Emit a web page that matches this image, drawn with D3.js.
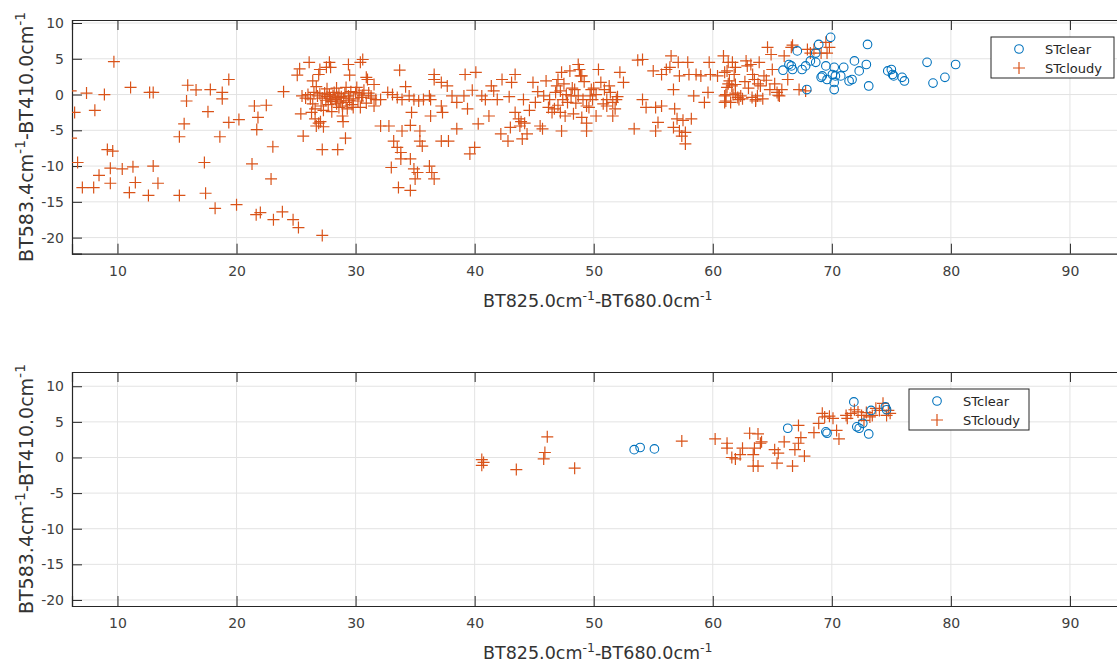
<!DOCTYPE html>
<html><head><meta charset="utf-8">
<script src="https://cdn.jsdelivr.net/npm/d3@7"></script>
<style>
body{margin:0;background:#fff;}
svg{display:block;font-family:"DejaVu Sans",sans-serif;}
</style></head><body>
<svg id="chart" width="1117" height="663"></svg>
<script>
// ---------- data ----------
const xTicks = [10,20,30,40,50,60,70,80,90];
const yTicks = [10,5,0,-5,-10,-15,-20];
const seriesNames = ["STclear","STcloudy"];

const topClear = [
[65.9,3.4],[66.4,4.2],[66.6,4.0],[66.7,3.5],[67.1,6.1],[67.5,3.5],[67.8,4.0],[67.9,0.7],[68.2,4.7],[68.65,4.5],
[68.9,7.0],[68.65,5.8],[69.1,2.4],[69.2,2.6],[69.5,4.0],[69.6,2.1],[69.9,8.0],[70.2,3.8],[70.05,2.8],[70.2,1.7],
[70.2,0.7],[70.3,2.6],[70.75,2.6],[71.0,3.8],[71.45,1.9],[71.7,2.1],[71.9,4.7],[72.3,3.3],[72.9,4.2],[73.0,7.0],
[73.1,1.2],[74.7,3.3],[75.0,3.5],[75.1,2.8],[75.2,2.6],[75.9,2.4],[76.1,1.9],[78.0,4.5],[78.5,1.6],[79.5,2.4],[80.4,4.2]
];

const topCloudy = [
[6.07,0.5],[6.4,-2.5],[6.1,-6.1],[6.65,-9.5],[7.05,-13.0],[7.4,0.2],[8.0,-13.0],[8.1,-2.2],[8.45,-11.3],[8.9,0.0],
[9.15,-7.7],[9.6,-7.9],[9.7,4.6],[9.4,-10.3],[9.4,-12.4],[10.4,-10.4],[11.1,1.0],[11.0,-13.7],[11.3,-10.1],[11.5,-12.3],
[12.7,0.3],[13.0,0.3],[12.6,-14.1],[13.0,-10.0],[13.4,-12.4],[15.2,-14.1],[15.2,-5.9],[15.6,-4.1],[15.8,-0.9],[15.9,1.3],
[16.6,0.65],[17.3,-9.5],[17.4,-13.8],[17.6,-2.4],[17.8,0.7],[18.2,-15.9],[18.6,-5.9],[18.8,0.3],[18.8,-0.6],[19.35,2.1],
[19.35,-3.9],[20.0,-15.4],[20.2,-3.5],[21.3,-9.7],[21.5,-1.6],[21.7,-4.9],[21.8,-3.2],[21.65,-16.8],[22.0,-16.5],[22.5,-1.5],
[22.9,-11.8],[23.05,-7.3],[23.1,-17.5],[23.85,-16.4],[23.95,0.4],[24.75,-17.5],[25.2,-18.6],[25.1,2.7],[25.3,3.6],[25.4,-2.7],
[25.6,-5.8],[26.1,4.5],[27.2,-19.7],[27.2,-7.7],[28.5,-7.7],[29.15,-6.1],[28.95,-3.8],[29.4,4.2],[29.5,2.7],[30.4,4.5],
[30.6,4.9],[30.9,2.4],[26.4,1.9],[26.9,2.8],[27.0,3.5],[27.55,3.8],[27.8,4.5],[27.9,3.8],[26.3,-2.5],[26.6,-3.4],
[26.7,-4.4],[26.9,-4.0],[29.8,-1.8],
[26.5,0.3],[26.8,-0.2],[27.0,0.1],[27.2,-0.5],[27.4,0.2],[27.5,-0.8],[27.6,-0.3],[27.8,0.0],[27.9,-0.6],[28.0,-1.0],
[28.1,-0.2],[28.2,0.3],[28.3,-0.7],[28.4,-1.3],[28.5,-0.4],[28.6,0.1],[28.7,-0.9],[28.8,-0.3],[28.9,-1.6],[29.0,-0.5],
[29.1,0.2],[29.2,-1.1],[29.4,-0.2],[29.6,0.4],[29.8,-0.6],[30.0,0.3],[30.2,-0.9],[30.3,0.1],[30.5,-0.4],[30.7,0.6],
[30.9,-1.2],[31.1,0.2],[31.3,-0.5],[26.2,-0.6],[26.4,-1.3],[26.6,-2.0],[27.1,-1.6],[27.3,-2.2],[27.7,-1.4],[28.0,-2.4],
[28.6,-1.8],[29.3,-2.0],[29.7,-1.4],[30.4,-1.8],[26.7,1.1],[27.6,0.8],[28.4,0.9],[29.2,1.0],[30.1,1.0],[25.8,-0.5],
[25.5,-0.2],[26.0,0.0],[27.05,-3.8],[27.3,-4.5],[28.9,-3.0],[29.5,-0.8],[30.6,-0.1],
[31.0,2.1],[31.55,1.4],[31.3,-0.2],[31.7,-0.7],[32.1,-0.7],[32.7,0.3],[33.1,0.0],[33.5,-0.4],[33.9,-0.7],[34.5,-0.2],
[34.9,-0.7],[35.3,-0.9],[35.7,-0.7],[36.2,-0.2],[36.3,-0.7],[31.55,-1.6],[32.1,-4.4],[32.8,-4.4],[33.9,-5.1],[34.6,-4.3],
[34.7,-2.5],[33.7,3.4],[34.2,1.1],[33.2,-6.5],[33.5,-7.4],[33.8,-8.1],[33.8,-9.0],[33.0,-10.2],[34.6,-9.0],[34.9,-10.4],
[35.2,-10.9],[35.0,-11.8],[33.6,-13.0],[34.6,-13.4],[35.4,-6.5],[35.6,-7.2],[36.2,-10.0],[36.4,-10.9],[36.6,-11.8],[35.4,-5.1],
[36.3,-3.0],[36.6,2.8],[36.6,2.1],[37.2,1.7],[37.2,-1.6],[37.3,-2.5],[37.2,-6.5],[37.8,-6.5],[37.7,1.2],[38.1,-0.2],
[38.5,-4.8],[38.5,-1.1],[39.2,2.8],[39.1,-0.2],[39.4,-2.0],[39.6,-8.3],[40.1,3.1],[40.0,-7.4],[40.3,-4.1],[40.6,-0.2],
[40.9,-0.7],[41.2,-3.0],[41.4,1.2],[41.9,-0.7],[42.2,-5.5],[42.3,2.1],[42.8,-6.5],[43.0,-4.6],[43.1,1.7],[43.4,2.8],
[43.4,-2.5],[43.7,-3.4],[43.8,-4.4],[44.1,-0.7],[44.0,-6.2],[44.4,-5.5],[44.9,1.7],[45.1,-1.1],[45.5,-4.4],[45.7,-4.8],
[45.8,-0.2],[46.0,1.9],[46.3,-0.7],[46.5,-2.5],[46.7,-2.0],[46.9,1.2],[47.0,2.1],[47.2,0.5],[47.3,-5.1],[47.3,3.1],
[47.4,-0.7],[47.7,0.0],[47.8,-1.1],[48.1,-0.2],[48.4,0.7],[48.7,-0.2],[48.8,3.5],[49.0,2.6],[49.1,-0.7],[49.4,-1.6],
[49.7,-0.2],[49.8,0.7],[49.9,-0.7],[50.2,0.0],[50.4,3.5],[50.6,1.7],[50.9,0.7],[51.1,-0.7],[51.3,1.2],[51.6,-1.1],
[51.8,-2.0],[51.9,-0.7],[52.2,3.1],[52.5,1.7],[47.2,-2.5],[47.6,-3.0],[48.3,-2.7],[49.0,-3.2],[49.4,-5.1],[49.4,-4.0],
[50.2,-3.0],[51.6,-3.0],[51.1,-1.6],[48.7,4.2],[48.0,3.3],
[46.8,0.3],[47.5,1.5],[48.2,0.9],[48.5,-1.2],[49.2,1.8],[49.6,-1.8],[50.0,0.9],[50.8,-1.3],[51.4,0.3],[52.0,-0.3],
[47.0,-1.5],[48.9,2.6],[46.2,-1.8],[45.3,0.4],[44.6,-2.2],[43.9,-3.8],[44.2,-4.0],[42.9,-0.3],[41.6,0.5],[39.8,0.6],
[53.4,-4.8],[53.7,4.8],[54.1,4.9],[54.1,-0.7],[54.4,-1.8],[55.0,3.3],[55.2,-1.8],[55.4,-3.9],[55.2,-5.1],[55.7,2.8],
[55.7,-1.6],[56.1,3.5],[56.4,3.8],[56.5,5.4],[56.7,0.7],[56.7,-4.6],[56.8,-2.0],[57.0,-3.4],[57.1,4.5],[57.2,2.6],
[57.2,-5.1],[57.4,-5.8],[57.5,-3.6],[57.7,-6.9],[57.7,-5.3],[57.9,4.5],[58.0,2.8],[58.2,-3.4],[58.4,-0.2],[58.6,2.8],
[59.0,2.6],[59.3,-1.1],[59.6,0.3],[59.7,4.5],[59.8,2.8],[60.4,2.6],[60.9,5.4],[61.0,3.1],[61.3,4.5],[61.2,1.0],
[61.0,-0.2],[61.6,1.2],[61.7,0.0],[61.9,3.8],
[61.2,3.3],[61.4,1.9],[61.1,0.0],[61.1,-0.9],[61.65,4.5],[61.8,2.8],[61.9,1.4],[62.1,-0.4],[62.35,-0.2],[62.8,4.7],
[62.9,4.0],[63.2,4.2],[63.35,2.8],[63.5,2.1],[63.6,-0.7],[63.75,-0.2],[63.9,4.5],[64.0,1.2],[64.3,2.6],[64.6,6.6],
[64.9,5.6],[65.0,3.5],[64.8,0.7],[65.4,0.3],[65.6,-0.2],[65.8,0.7],[66.0,5.4],[66.3,2.1],[66.6,6.6],[66.7,6.9],
[67.25,0.7],[67.8,0.5],[67.95,6.3],[68.2,5.8],[68.5,6.3],[69.1,5.8],[69.5,7.3],[69.6,5.8],[69.8,6.6],
[61.3,1.5],[61.9,0.2],[62.5,-0.6],[62.7,1.8],[63.0,0.9],[63.3,-0.4],[63.8,1.5],[64.2,-0.6],[64.5,2.0],[65.2,1.5],
[65.5,-0.1],[61.0,-1.1],[61.5,-1.1],[62.2,-0.7],[63.6,-0.9]
];

const bottomClear = [
[53.4,1.1],[53.9,1.4],[55.1,1.2],[66.3,4.1],[69.5,3.6],[69.6,3.4],[71.85,7.8],[72.1,4.3],[72.3,4.1],[72.6,4.8],
[73.1,3.3],[73.3,6.6],[74.5,7.1],[74.6,6.7]
];

const bottomCloudy = [
[40.6,-0.3],[40.75,-0.7],[40.6,-1.1],[43.5,-1.7],[46.1,2.9],[45.9,0.7],[45.8,-0.2],[48.4,-1.5],
[57.4,2.3],[60.2,2.6],[61.2,2.0],[61.2,1.3],[61.6,0.0],[61.9,-0.2],[62.5,1.3],[62.3,0.4],[63.1,3.4],[63.8,3.3],
[63.5,1.3],[63.4,0.4],[63.4,-1.2],[63.8,-1.2],[64.0,2.0],[64.1,2.2],[65.2,1.1],[65.5,0.6],[65.4,-0.8],[66.0,2.2],
[66.7,-1.2],[66.9,1.1],[67.2,4.5],[67.4,2.8],[67.2,2.0],[67.7,0.2],[68.5,3.5],[68.9,4.8],[69.2,6.2],[69.4,5.7],
[69.8,5.8],[70.1,5.5],[70.4,3.8],[70.6,2.6],[71.2,5.9],[71.3,5.5],[71.6,6.2],[71.9,6.7],[72.2,6.4],[72.5,5.9],
[72.7,5.2],[72.9,6.3],[73.2,5.7],[73.4,5.9],[73.7,6.9],[74.0,6.6],[74.3,7.6],[74.6,5.9],[74.9,6.2],[74.75,6.6]
];

// ---------- drawing ----------
const BLUE = "#0072BD", ORANGE = "#D95319", AX = "#262626", GRID = "#e3e3e3";
const svg = d3.select("#chart");
const xRange = [72, 1123.5];
const xDomain = [6.18, 94.5];

const panels = [
  {clear: topClear, cloudy: topCloudy, yDomain: [-22.25, 10.42], top: 20, bottom: 253.7,
   legend: {x: 991, y: 37, w: 123, h: 41}, xLabelY: 307},
  {clear: bottomClear, cloudy: bottomCloudy, yDomain: [-20.85, 12], top: 372, bottom: 606,
   legend: {x: 909, y: 389, w: 120, h: 41}, xLabelY: 658.5}
];

function labelWithSup(sel, parts, supSize, shift) {
  let pending = 0;
  parts.forEach(p => {
    const t = sel.append("tspan").text(p.t);
    if (p.sup) {
      t.attr("font-size", supSize).attr("dy", -shift);
      pending = shift;
    } else if (pending) {
      t.attr("dy", pending);
      pending = 0;
    }
  });
}

panels.forEach((p, i) => {
  const x = d3.scaleLinear().domain(xDomain).range(xRange);
  const y = d3.scaleLinear().domain(p.yDomain).range([p.bottom, p.top]);
  const g = svg.append("g");
  const clipId = "clip" + i;
  svg.append("defs").append("clipPath").attr("id", clipId)
    .append("rect").attr("x", xRange[0]).attr("y", p.top)
    .attr("width", xRange[1] - xRange[0]).attr("height", p.bottom - p.top);

  // grid
  g.append("g").selectAll("line").data(xTicks).join("line")
    .attr("x1", d => x(d)).attr("x2", d => x(d)).attr("y1", p.top).attr("y2", p.bottom)
    .attr("stroke", GRID).attr("stroke-width", 1);
  g.append("g").selectAll("line").data(yTicks).join("line")
    .attr("x1", xRange[0]).attr("x2", xRange[1]).attr("y1", d => y(d)).attr("y2", d => y(d))
    .attr("stroke", GRID).attr("stroke-width", 1);

  // axes via d3 axis (inward ticks)
  const xb = g.append("g").attr("transform", `translate(0,${p.bottom})`)
    .call(d3.axisBottom(x).tickValues(xTicks).tickSize(-10).tickPadding(12).tickFormat(d3.format("d")));
  const xt = g.append("g").attr("transform", `translate(0,${p.top})`)
    .call(d3.axisTop(x).tickValues(xTicks).tickSize(-10).tickFormat(""));
  const yl = g.append("g").attr("transform", `translate(${xRange[0]},0)`)
    .call(d3.axisLeft(y).tickValues(yTicks).tickSize(-10).tickPadding(8).tickFormat(d => String(d)));
  [xb, xt, yl].forEach(a => {
    a.select(".domain").attr("stroke", AX).attr("stroke-width", 1.2);
    a.selectAll(".tick line").attr("stroke", AX).attr("stroke-width", 1);
    a.selectAll(".tick text").attr("fill", "#404040").attr("font-size", 14)
      .attr("font-family", "DejaVu Sans, sans-serif");
  });
  xb.selectAll(".tick text").attr("dy", "0.71em");

  // points
  const pts = svg.append("g").attr("clip-path", `url(#${clipId})`);
  pts.selectAll("path.cloudy").data(p.cloudy).join("path").attr("class", "cloudy")
    .attr("d", d => `M${x(d[0]) - 6},${y(d[1])}h12M${x(d[0])},${y(d[1]) - 6}v12`)
    .attr("stroke", ORANGE).attr("stroke-width", 1.2).attr("fill", "none");
  pts.selectAll("circle.clear").data(p.clear).join("circle").attr("class", "clear")
    .attr("cx", d => x(d[0])).attr("cy", d => y(d[1])).attr("r", 4.3)
    .attr("stroke", BLUE).attr("stroke-width", 1.1).attr("fill", "none");

  // x label
  const xl = svg.append("text").attr("x", (xRange[0] + xRange[1]) / 2).attr("y", p.xLabelY)
    .attr("text-anchor", "middle").attr("font-size", 17.5).attr("fill", "#333");
  labelWithSup(xl, [{t: "BT825.0cm"}, {t: "-1", sup: true}, {t: "-BT680.0cm"}, {t: "-1", sup: true}], 12.5, 7);
  // y label
  const cy = (p.top + p.bottom) / 2;
  const ylab = svg.append("text").attr("transform", `translate(33,${cy}) rotate(-90)`)
    .attr("text-anchor", "middle").attr("font-size", 19).attr("fill", "#333");
  labelWithSup(ylab, [{t: "BT583.4cm"}, {t: "-1", sup: true}, {t: "-BT410.0cm"}, {t: "-1", sup: true}], 14, 8);

  // legend
  const L = p.legend;
  const lg = svg.append("g");
  lg.append("rect").attr("x", L.x).attr("y", L.y).attr("width", L.w).attr("height", L.h)
    .attr("fill", "#fff").attr("stroke", AX).attr("stroke-width", 1);
  const mx = L.x + 28;
  lg.append("circle").attr("cx", mx).attr("cy", L.y + 12).attr("r", 4.3)
    .attr("stroke", BLUE).attr("stroke-width", 1.1).attr("fill", "none");
  lg.append("path").attr("d", `M${mx - 6},${L.y + 31}h12M${mx},${L.y + 25}v12`)
    .attr("stroke", ORANGE).attr("stroke-width", 1.2);
  seriesNames.forEach((n, k) => {
    lg.append("text").attr("x", L.x + 54).attr("y", L.y + 12 + k * 19).attr("dy", "0.35em")
      .attr("font-size", 13).attr("fill", "#262626").text(n);
  });
});
</script>
</body></html>
